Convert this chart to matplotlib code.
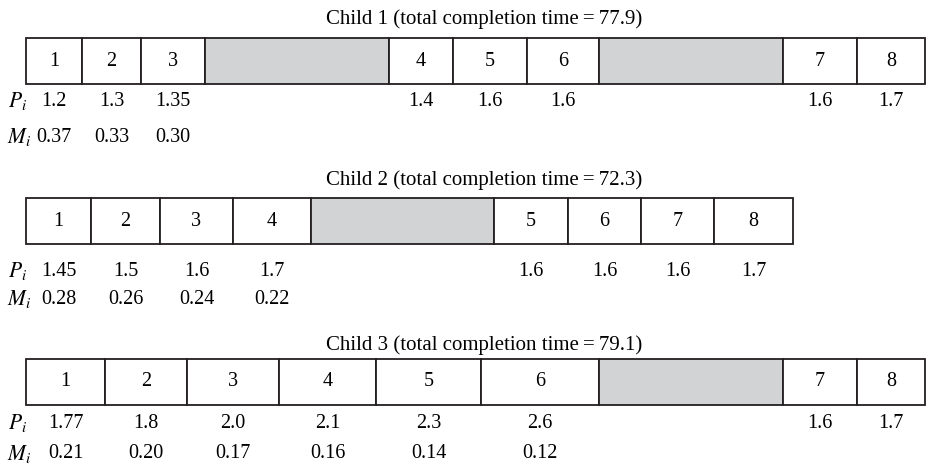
import matplotlib.pyplot as plt
from matplotlib.patches import Rectangle

plt.rcParams['font.family'] = ['Liberation Serif', 'DejaVu Serif']
plt.rcParams['mathtext.fontset'] = 'stix'

# segment durations (schematic units), None label = idle (gray)
child1_jobs = ['1', '2', '3', None, '4', '5', '6', None, '7', '8']
child1_widths = [5.6, 5.9, 6.4, 18.4, 6.4, 7.4, 7.2, 18.4, 7.4, 6.8]
child1_P = ['1.2', '1.3', '1.35', '1.4', '1.6', '1.6', '1.6', '1.7']
child1_M = ['0.37', '0.33', '0.30']
child1_time = 77.9

child2_jobs = ['1', '2', '3', '4', None, '5', '6', '7', '8']
child2_widths = [6.5, 6.9, 7.3, 7.8, 18.3, 7.4, 7.3, 7.3, 7.9]
child2_P = ['1.45', '1.5', '1.6', '1.7', '1.6', '1.6', '1.6', '1.7']
child2_M = ['0.28', '0.26', '0.24', '0.22']
child2_time = 72.3

child3_jobs = ['1', '2', '3', '4', '5', '6', None, '7', '8']
child3_widths = [7.9, 8.2, 9.2, 9.7, 10.5, 11.8, 18.4, 7.4, 6.8]
child3_P = ['1.77', '1.8', '2.0', '2.1', '2.3', '2.6', '1.6', '1.7']
child3_M = ['0.21', '0.20', '0.17', '0.16', '0.14', '0.12']
child3_time = 79.1

children = [
    (1, child1_jobs, child1_widths, child1_P, child1_M, child1_time),
    (2, child2_jobs, child2_widths, child2_P, child2_M, child2_time),
    (3, child3_jobs, child3_widths, child3_P, child3_M, child3_time),
]

# layout (in axis units, y grows downward)
row_y = [6.1, 22.1, 38.2]
p_y = [10.1, 27.1, 42.3]
m_y = [13.7, 29.9, 45.4]
title_y = [1.95, 18.0, 34.5]
x0 = 2.6
box_h = 4.6
fs = 14.5

fig = plt.figure(figsize=(9.27, 4.70), dpi=100)
ax = fig.add_axes([0, 0, 1, 1])
ax.set_xlim(0, 92.7)
ax.set_ylim(47.0, 0)
ax.axis('off')

for k, (num, jobs, widths, P, M, ctime) in enumerate(children):
    yc = row_y[k]
    left = x0
    centers = []
    for job, w in zip(jobs, widths):
        face = '#d1d3d4' if job is None else 'white'
        ax.add_patch(Rectangle((left, yc - box_h / 2), w, box_h,
                               facecolor=face, edgecolor='#231f20', lw=1.3))
        if job is not None:
            ax.text(left + w / 2, yc, job, ha='center', va='center', fontsize=fs)
            centers.append(left + w / 2)
        left += w
    for cx, p in zip(centers, P):
        ax.text(cx, p_y[k], p, ha='center', va='center', fontsize=fs)
    for cx, m in zip(centers, M):
        ax.text(cx, m_y[k], m, ha='center', va='center', fontsize=fs)
    ax.text(0.8, p_y[k], r'$P_i$', ha='left', va='center', fontsize=fs + 1)
    ax.text(0.7, m_y[k], r'$M_i$', ha='left', va='center', fontsize=fs + 1)
    ax.text(48.4, title_y[k], f'Child {num} (total completion time\u2009=\u2009{ctime})',
            ha='center', va='center', fontsize=15)

fig.savefig('out.png', dpi=100)
